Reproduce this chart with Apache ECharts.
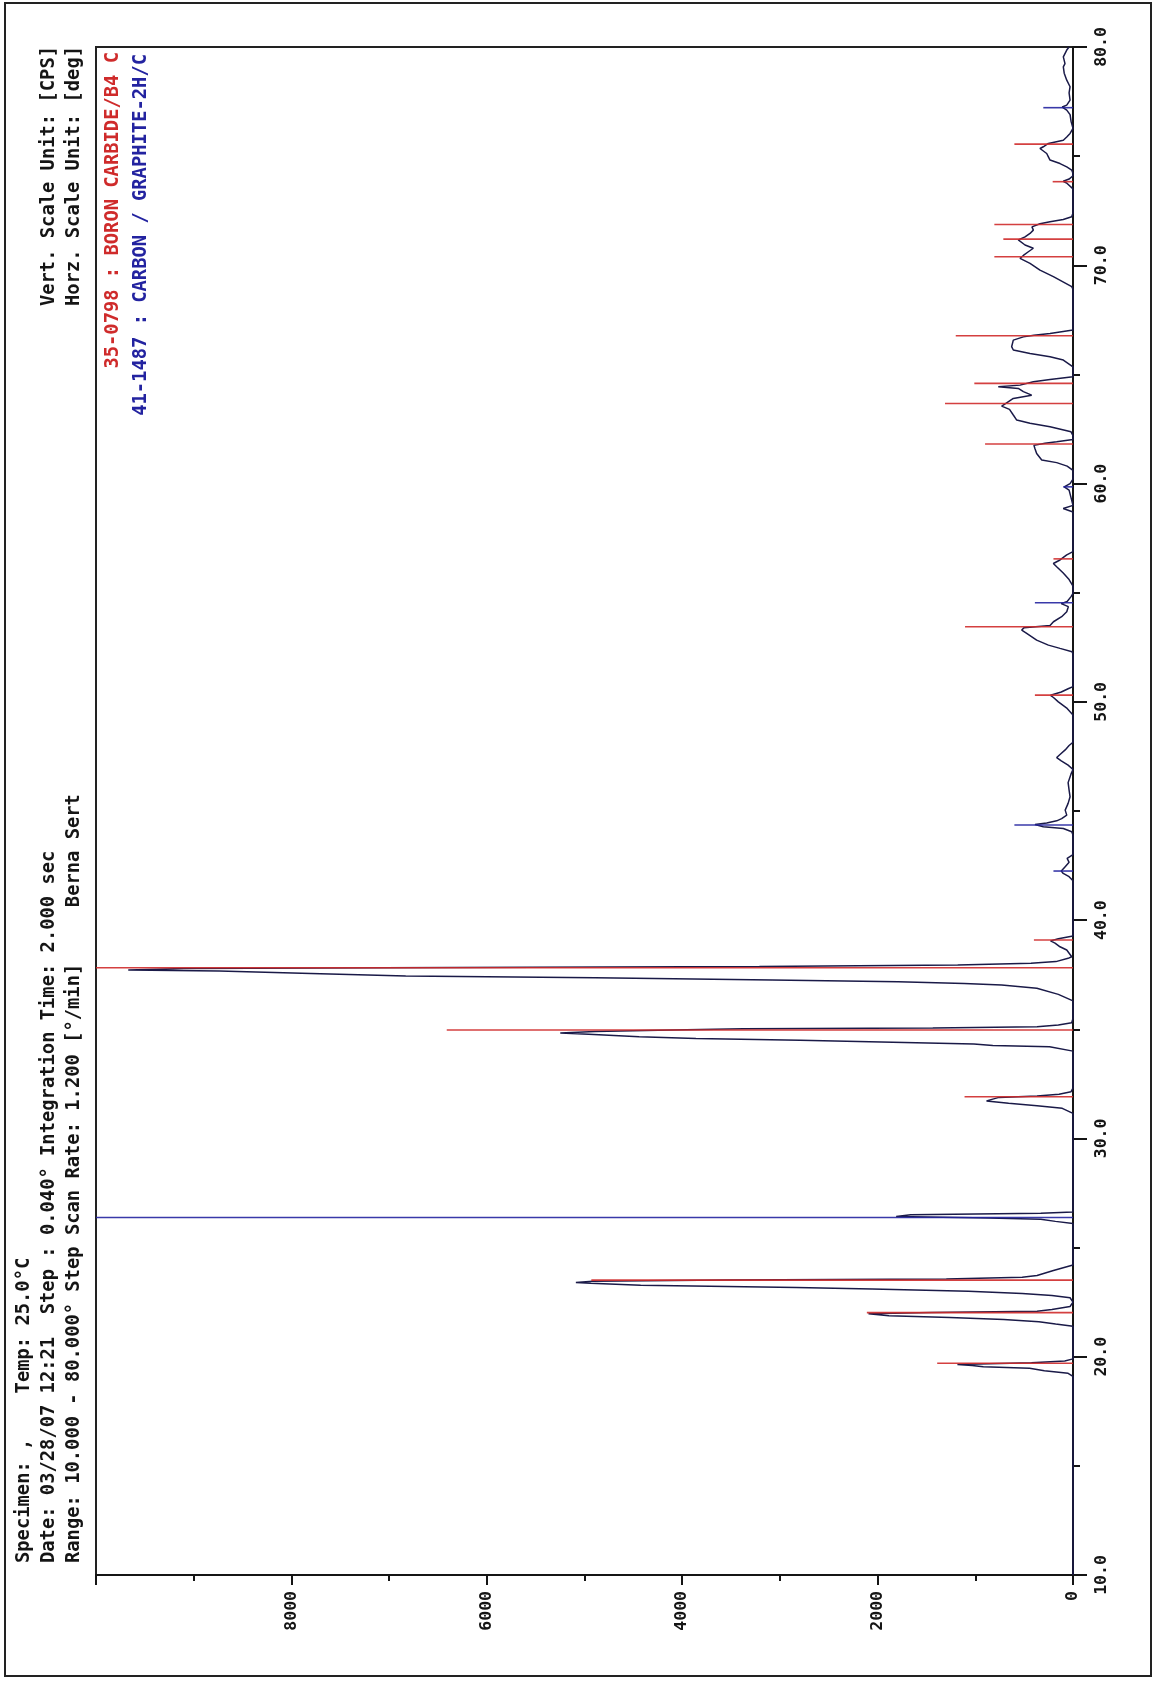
<!DOCTYPE html>
<html>
<head>
<meta charset="utf-8">
<script src="https://cdn.jsdelivr.net/npm/echarts/dist/echarts.min.js"></script>
<style>
html,body{margin:0;padding:0;background:#fff;}
#chart{width:1157px;height:1681px;}
</style>
</head>
<body>
<div id="chart"></div>
<script>
// ---- measured pattern (2-theta in degrees, intensity in CPS) ----
const twoTheta = [
 10.00,13.00,16.00,18.50,19.10,19.24,19.36,19.47,19.54,19.60,19.64,19.72,19.80,19.90,
 21.00,21.40,21.50,21.60,21.70,21.80,21.88,21.97,22.03,22.08,22.16,22.30,22.50,
 22.70,22.80,22.90,23.00,23.10,23.17,23.27,23.36,23.40,23.46,23.52,23.56,23.64,23.72,23.95,24.20,
 26.10,26.20,26.30,26.36,26.42,26.50,26.57,26.63,
 31.15,31.22,31.38,31.50,31.61,31.72,31.88,31.94,32.02,32.14,32.30,
 34.00,34.05,34.20,34.26,34.33,34.40,34.50,34.58,34.66,34.77,34.83,34.90,34.96,35.02,35.06,35.12,35.20,35.30,35.50,
 36.30,36.60,36.88,37.03,37.10,37.18,37.26,37.36,37.44,37.56,37.67,37.72,37.79,37.82,37.88,37.94,38.02,38.10,38.25,
 38.32,38.63,38.78,38.95,39.05,39.15,39.27,
 41.80,41.99,42.14,42.25,42.45,42.65,42.83,43.00,
 43.90,44.05,44.20,44.28,44.38,44.45,44.55,44.65,44.81,45.04,45.35,45.65,45.96,46.30,46.70,46.90,
 47.10,47.30,47.45,47.60,47.80,48.00,48.15,
 49.40,49.70,50.00,50.20,50.30,50.45,50.60,50.70,
 52.20,52.30,52.45,52.60,52.83,53.14,53.29,53.40,53.50,53.67,53.90,54.13,54.36,54.50,54.60,54.82,54.97,
 55.30,55.60,55.90,56.19,56.34,56.50,56.73,56.88,
 58.70,58.86,59.00,59.70,59.85,60.00,60.20,
 60.60,60.80,60.96,61.08,61.38,61.60,61.75,61.85,61.92,62.02,
 62.20,62.37,62.60,62.76,62.91,63.14,63.40,63.55,63.70,63.90,64.05,64.21,64.36,64.44,64.51,64.66,64.77,64.89,
 65.35,65.66,65.81,65.96,66.12,66.27,66.57,66.72,66.80,66.88,67.03,
 68.90,69.02,69.48,69.78,70.09,70.32,70.45,70.62,70.78,70.93,71.16,71.30,71.46,71.61,71.76,71.90,71.99,72.10,72.22,72.40,
 73.50,73.75,73.85,73.95,74.10,
 74.20,74.36,74.51,74.66,74.82,74.97,75.12,75.35,75.43,75.58,75.73,75.88,76.04,76.27,
 76.60,76.90,77.11,77.25,77.34,77.57,77.90,78.18,78.48,78.80,79.09,79.24,79.55,79.86,80.00
];
const cps = [
 0,0,0,0,0,50,293,444,918,1032,1183,425,84,0,
 0,0,178,349,709,1259,1884,2093,1448,368,216,30,0,
 30,216,520,1070,2055,2832,4425,4936,5088,4917,3553,1297,520,368,200,0,
 0,180,330,860,1810,1660,330,0,
 0,13,110,368,659,885,757,368,143,20,0,
 0,13,240,821,1015,1726,2792,3859,4440,4957,5248,4892,4246,3373,1435,368,150,13,0,
 0,150,370,730,1115,1790,3080,4890,6830,7800,8740,9670,9100,7060,3210,1180,430,175,50,
 13,64,133,184,230,150,0,
 0,40,100,120,80,40,60,0,
 0,13,99,304,389,269,167,116,64,80,50,30,40,50,20,0,
 50,120,167,130,80,40,0,
 0,60,150,200,230,120,50,0,
 0,10,133,252,372,474,525,500,235,200,116,64,48,120,60,20,0,
 0,40,100,167,201,133,64,0,
 0,100,0,40,90,30,0,
 0,60,167,320,372,389,400,287,167,0,
 0,20,235,440,576,611,650,730,679,611,423,508,560,765,542,406,235,0,
 0,99,235,440,611,628,611,508,400,235,0,
 0,13,201,338,440,542,508,457,406,491,560,491,440,406,420,338,235,100,13,0,
 0,60,100,40,0,
 0,13,64,133,235,252,269,338,304,252,99,64,30,0,
 20,30,64,110,64,30,40,30,64,90,99,82,99,64,40
];

// ---- reference sticks ----
const b4cAngle     = [19.70,22.02,23.51,31.91,34.97,37.82,39.09,50.31,53.44,56.55,61.81,63.67,64.59,66.77,70.39,71.20,71.87,73.83,75.55];
const b4cIntensity = [1390,2110,4930,1110,6410,10000,400,390,1105,200,900,1310,1010,1200,805,713,805,208,600];
const graphiteAngle     = [26.38,42.25,44.36,54.54,59.85,77.22];
const graphiteIntensity = [10000,200,600,390,100,304];

// ---- texts ----
const headerLines = [
 'Specimen: ,    Temp: 25.0°C',
 'Date: 03/28/07 12:21  Step : 0.040° Integration Time: 2.000 sec',
 'Range: 10.000 - 80.000° Step Scan Rate: 1.200 [°/min]     Berna Sert'
];
const unitLines = ['Vert. Scale Unit: [CPS]', 'Horz. Scale Unit: [deg]'];
const cardB4C = '35-0798 : BORON CARBIDE/B4 C';
const cardGraphite = '41-1487 : CARBON / GRAPHITE-2H/C';

const INK = '#151515';
const RED = '#cf2b2b';
const BLUE = '#2323a0';
const FONT = '"DejaVu Sans Mono", "Liberation Mono", monospace';

function stickSeries(name, angles, ints, color) {
  return {
    type: 'custom', name: name, silent: true, z: 4,
    data: angles.map((a, i) => [ints[i], a]),
    encode: {x: 0, y: 1},
    renderItem: function (params, api) {
      const p0 = api.coord([0, api.value(1)]);
      const p1 = api.coord([api.value(0), api.value(1)]);
      return {type: 'line', shape: {x1: p0[0], y1: p0[1], x2: p1[0], y2: p1[1]},
              style: {stroke: color, lineWidth: 1.6, opacity: 0.9}};
    }
  };
}

function rotText(text, x, y, align, color) {
  return {type: 'text', x: x, y: y, rotation: Math.PI / 2, z: 10,
    style: {text: text, fill: color, align: align, verticalAlign: 'middle',
            fontFamily: FONT, fontWeight: 'bold', fontSize: 18.8}};
}

const chart = echarts.init(document.getElementById('chart'));
const graphics = [
  {type: 'rect', shape: {x: 5, y: 3, width: 1146, height: 1673}, style: {fill: 'none', stroke: '#222', lineWidth: 2}, z: 1},
  rotText(headerLines[0], 24, 1563, 'left', INK),
  rotText(headerLines[1], 49, 1563, 'left', INK),
  rotText(headerLines[2], 74, 1563, 'left', INK),
  rotText(unitLines[0], 49, 46, 'right', INK),
  rotText(unitLines[1], 74, 46, 'right', INK),
  rotText(cardB4C, 113, 52, 'right', RED),
  rotText(cardGraphite, 141, 54, 'right', BLUE)
];

const axisLabelStyle = {color: INK, fontFamily: FONT, fontWeight: 'bold', fontSize: 16.5};

chart.setOption({
  animation: false,
  backgroundColor: '#fff',
  grid: {left: 96, top: 47, right: 84, bottom: 106, show: true, borderColor: '#222', borderWidth: 2, containLabel: false},
  xAxis: {
    type: 'value', inverse: true, min: 0, max: 10000, interval: 2000, position: 'bottom',
    axisLine: {show: true, onZero: false, lineStyle: {color: INK, width: 2}},
    axisTick: {show: true, inside: false, length: 10, lineStyle: {color: INK, width: 2}},
    minorTick: {show: true, splitNumber: 2, length: 6, lineStyle: {color: INK, width: 2}},
    splitLine: {show: false}, minorSplitLine: {show: false},
    axisLabel: Object.assign({rotate: 90, margin: 16, showMaxLabel: false, formatter: v => String(v)}, axisLabelStyle)
  },
  yAxis: {
    type: 'value', position: 'right', min: 10, max: 80, interval: 10,
    axisLine: {show: true, onZero: false, lineStyle: {color: INK, width: 2}},
    axisTick: {show: true, inside: false, length: 14, lineStyle: {color: INK, width: 2}},
    minorTick: {show: true, splitNumber: 2, length: 7, lineStyle: {color: INK, width: 2}},
    splitLine: {show: false}, minorSplitLine: {show: false},
    axisLabel: Object.assign({rotate: 90, margin: 20, formatter: v => v.toFixed(1)}, axisLabelStyle)
  },
  series: [
    {type: 'line', name: 'pattern', data: twoTheta.map((t, i) => [cps[i], t]),
     symbol: 'none', showSymbol: false, z: 3, silent: true,
     lineStyle: {color: '#1a1a48', width: 1.5}},
    stickSeries('35-0798 B4C', b4cAngle, b4cIntensity, RED),
    stickSeries('41-1487 Graphite', graphiteAngle, graphiteIntensity, BLUE)
  ],
  graphic: graphics
});
</script>
</body>
</html>
